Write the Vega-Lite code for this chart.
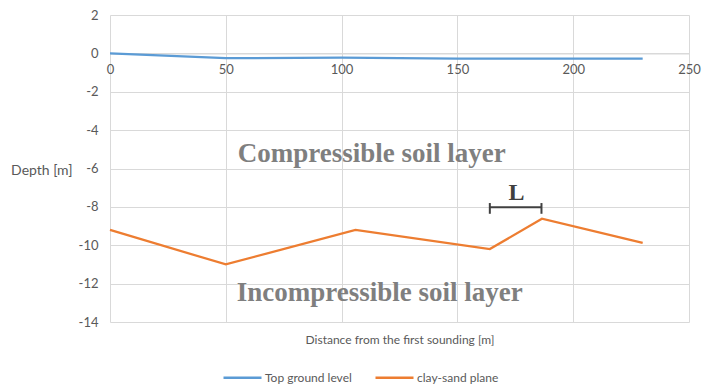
{
  "$schema": "https://vega.github.io/schema/vega-lite/v6.json",
  "width": 579,
  "height": 307,
  "autosize": {"type": "none"},
  "padding": {"left": 110, "top": 15, "right": 13, "bottom": 63},
  "background": "white",
  "config": {
    "view": {"stroke": null},
    "font": "Lato",
    "axis": {"labelFont": "Lato", "titleFont": "Lato", "labelColor": "#595959", "titleColor": "#595959", "labelFontSize": 13, "titleFontSize": 12, "titleFontWeight": "normal", "gridColor": "#d9d9d9", "gridWidth": 1, "ticks": false, "labelOverlap": false, "labelFlush": false}
  },
  "datasets": {
    "lines": [
      {"series": "Top ground level", "distance": 0, "depth": 0},
      {"series": "Top ground level", "distance": 50, "depth": -0.25},
      {"series": "Top ground level", "distance": 100, "depth": -0.22},
      {"series": "Top ground level", "distance": 150, "depth": -0.27},
      {"series": "Top ground level", "distance": 230, "depth": -0.28},
      {"series": "clay-sand plane", "distance": 0, "depth": -9.2},
      {"series": "clay-sand plane", "distance": 50, "depth": -11.0},
      {"series": "clay-sand plane", "distance": 106, "depth": -9.2},
      {"series": "clay-sand plane", "distance": 164, "depth": -10.2},
      {"series": "clay-sand plane", "distance": 186.5, "depth": -8.62},
      {"series": "clay-sand plane", "distance": 230, "depth": -9.88}
    ],
    "bracket": [
      {"xa": 164, "xb": 186.3, "ya": -8.02, "yb": -8.02},
      {"xa": 164, "xb": 164, "ya": -7.8, "yb": -8.36},
      {"xa": 186.3, "xb": 186.3, "ya": -7.8, "yb": -8.36}
    ],
    "layers": [
      {"label": "Compressible soil layer", "x": 113, "y": -5.25},
      {"label": "Incompressible soil layer", "x": 116.5, "y": -12.5}
    ],
    "marker": [
      {"label": "L", "x": 175.5, "y": -7.3}
    ]
  },
  "layer": [
    {
      "data": {"name": "lines"},
      "mark": {"type": "line", "strokeWidth": 2.25},
      "encoding": {
        "x": {
          "field": "distance", "type": "quantitative",
          "scale": {"domain": [0, 250], "nice": false, "zero": false},
          "axis": {
            "values": [0, 50, 100, 150, 200, 250],
            "tickCount": 20,
            "offset": -268.5,
            "labelPadding": 10,
            "domainColor": "#d9d9d9",
            "title": "Distance from the first sounding [m]",
            "titleY": 286,
            "titleBaseline": "middle",
            "titlePadding": 0
          }
        },
        "y": {
          "field": "depth", "type": "quantitative",
          "scale": {"domain": [-14, 2], "nice": false, "zero": false},
          "axis": {
            "values": [-14, -12, -10, -8, -6, -4, -2, 0, 2],
            "tickCount": 20,
            "labelExpr": "datum.value + ''",
            "domain": false,
            "labelPadding": 12,
            "title": "Depth [m]",
            "titleFontSize": 14,
            "titleAngle": 0,
            "titleAlign": "right",
            "titleBaseline": "middle",
            "titleX": -38,
            "titleY": 155
          }
        },
        "color": {
          "field": "series", "type": "nominal",
          "scale": {"domain": ["Top ground level", "clay-sand plane"], "range": ["#5b9bd5", "#ed7d31"]},
          "legend": {
            "title": null,
            "orient": "none",
            "direction": "horizontal",
            "legendX": 112,
            "legendY": 342,
            "symbolType": "stroke",
            "symbolSize": 1444,
            "symbolStrokeWidth": 2.5,
            "labelFont": "Lato",
            "labelFontSize": 12,
            "labelColor": "#595959",
            "labelOffset": 2,
            "columnPadding": 18
          }
        }
      }
    },
    {
      "data": {"name": "bracket"},
      "mark": {"type": "rule", "color": "#404040", "strokeWidth": 2},
      "encoding": {
        "x": {"field": "xa", "type": "quantitative"},
        "x2": {"field": "xb"},
        "y": {"field": "ya", "type": "quantitative"},
        "y2": {"field": "yb"}
      }
    },
    {
      "data": {"name": "layers"},
      "mark": {"type": "text", "font": "Liberation Serif", "fontWeight": "bold", "fontSize": 27, "color": "#7f7f7f", "align": "center", "baseline": "middle"},
      "encoding": {
        "x": {"field": "x", "type": "quantitative"},
        "y": {"field": "y", "type": "quantitative"},
        "text": {"field": "label"}
      }
    },
    {
      "data": {"name": "marker"},
      "mark": {"type": "text", "font": "Liberation Serif", "fontWeight": "bold", "fontSize": 24, "color": "#404040", "align": "center", "baseline": "middle"},
      "encoding": {
        "x": {"field": "x", "type": "quantitative"},
        "y": {"field": "y", "type": "quantitative"},
        "text": {"field": "label"}
      }
    }
  ]
}
